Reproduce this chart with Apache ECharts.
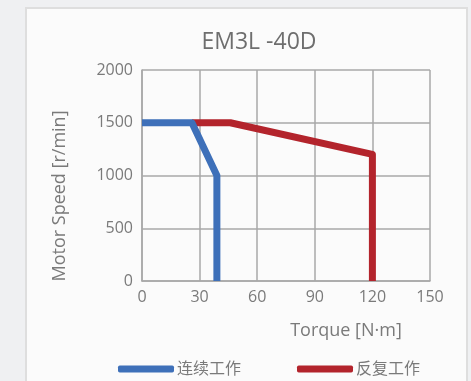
<!DOCTYPE html>
<html><head><meta charset="utf-8">
<script src="https://cdn.jsdelivr.net/npm/echarts@6/dist/echarts.min.js"></script>
<style>html,body{margin:0;padding:0;background:#eff0f2;}#c{width:471px;height:381px;}</style>
</head><body><div id="c"></div>
<script>
const title = 'EM3L -40D';
const seriesNames = ['连续工作', '反复工作'];
const continuousTorque = [0, 26, 39, 39];
const continuousSpeed = [1500, 1500, 1000, 0];
const repeatTorque = [26, 46, 120, 120];
const repeatSpeed = [1500, 1500, 1200, 0];
const xTicks = [0, 30, 60, 90, 120, 150];
const yTicks = [0, 500, 1000, 1500, 2000];
const xName = 'Torque [N·m]';
const yName = 'Motor Speed [r/min]';

const chart = echarts.init(document.getElementById('c'), null, {renderer: 'canvas'});
const font = '"Open Sans", "Noto Sans CJK SC", sans-serif';
const txt = '#7a7a7a';
const gridC = '#a8a8a8';
chart.setOption({
  animation: false,
  graphic: [
    {type: 'rect', shape: {x: 26, y: 8, width: 441, height: 380}, style: {fill: '#fbfbfb', stroke: '#dedede', lineWidth: 2}, z: -10},
    {type: 'text', x: 259, y: 42, style: {text: title, fill: '#6e6e6e', font: '23px ' + font, textAlign: 'center', textVerticalAlign: 'middle'}},
    {type: 'text', x: 60, y: 196, rotation: Math.PI / 2, style: {text: yName, fill: txt, font: '18px ' + font, textAlign: 'center', textVerticalAlign: 'middle'}},
    {type: 'text', x: 346, y: 331, style: {text: xName, fill: txt, font: '18px ' + font, textAlign: 'center', textVerticalAlign: 'middle'}}
  ],
  legend: {
    left: 113, top: 356, itemWidth: 56, itemHeight: 7, itemGap: 56,
    icon: 'roundRect',
    textStyle: {color: txt, fontSize: 16, fontFamily: font, padding: [0, 0, 0, -2]},
    data: seriesNames
  },
  grid: {left: 142, right: 41, top: 70, bottom: 100},
  xAxis: {
    type: 'value', min: xTicks[0], max: xTicks[xTicks.length - 1], interval: 30,
    axisLine: {show: true, lineStyle: {color: gridC, width: 1.5}},
    axisTick: {show: false},
    axisLabel: {color: txt, fontSize: 16, fontFamily: font, margin: 8, formatter: v => String(v)},
    splitLine: {show: true, lineStyle: {color: gridC, width: 1.5}}
  },
  yAxis: {
    type: 'value', min: yTicks[0], max: yTicks[yTicks.length - 1], interval: 500,
    axisLine: {show: true, lineStyle: {color: gridC, width: 1.5}},
    axisTick: {show: false},
    axisLabel: {color: txt, fontSize: 16, fontFamily: font, margin: 9, formatter: v => String(v)},
    splitLine: {show: true, lineStyle: {color: gridC, width: 1.5}}
  },
  series: [
    {name: seriesNames[0], type: 'line', showSymbol: false, z: 3,
     color: '#3e70b9', lineStyle: {width: 7, color: '#3e70b9', join: 'round'},
     data: continuousTorque.map((t, i) => [t, continuousSpeed[i]])},
    {name: seriesNames[1], type: 'line', showSymbol: false, z: 2,
     color: '#b3242c', lineStyle: {width: 7, color: '#b3242c', join: 'round'},
     data: repeatTorque.map((t, i) => [t, repeatSpeed[i]])}
  ]
});
</script></body></html>
